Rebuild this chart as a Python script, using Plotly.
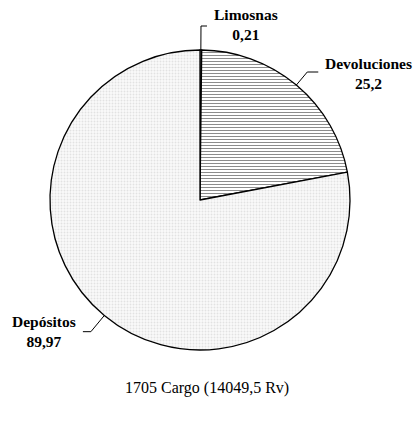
import math
import plotly.graph_objects as go

labels = ["Limosnas", "Devoluciones", "Depósitos"]
values = [0.21, 25.2, 89.97]
value_text = ["0,21", "25,2", "89,97"]
title_text = "1705 Cargo (14049,5 Rv)"

W, H = 413, 423
cx, cy, R = 200, 200, 150  # pie geometry in pixels

fig = go.Figure(go.Pie(
    labels=labels, values=values, sort=False, direction="clockwise", rotation=0,
    textinfo="none", hoverinfo="label+value", showlegend=False,
    marker=dict(
        colors=["#ffffff", "#ffffff", "#f5f5f5"],
        line=dict(color="#000000", width=1.3),
        pattern=dict(shape=["", "-", "."], fgcolor=["#000", "#8c8c8c", "#e2e2e2"],
                     bgcolor=["#ffffff", "#ffffff", "#fafafa"], size=[4, 3, 3],
                     solidity=[0.2, 0.35, 0.3]),
    ),
    domain=dict(x=[(cx - R) / W, (cx + R) / W], y=[1 - (cy + R) / H, 1 - (cy - R) / H]),
))

def px2paper(x, y):
    return x / W, 1 - y / H

shapes, annos = [], []
total = sum(values)
cum = 0
ext = [24, 17, 21]
hor = [6, 11, 8]
dy = [-2, 1, 0]
for i, (lab, v) in enumerate(zip(labels, values)):
    mid = (cum + v / 2) / total * 2 * math.pi
    cum += v
    sx, sy = math.sin(mid), -math.cos(mid)
    x0, y0 = cx + R * sx, cy + R * sy
    x1, y1 = cx + (R + ext[i]) * sx, cy + (R + ext[i]) * sy
    d = 1 if sx >= 0 else -1
    x2 = x1 + hor[i] * d
    pts = [px2paper(x0, y0), px2paper(x1, y1), px2paper(x2, y1)]
    path = "M {} {} L {} {} L {} {}".format(*[c for p in pts for c in p])
    shapes.append(dict(type="path", xref="paper", yref="paper", path=path,
                       line=dict(color="#000", width=1)))
    tx, ty = px2paper(x2 + 5 * d, y1 + dy[i])
    annos.append(dict(xref="paper", yref="paper", x=tx, y=ty, showarrow=False,
                      xanchor="left" if d > 0 else "right", yanchor="middle", align="center",
                      text="<b>{}</b><br><b>{}</b>".format(lab, value_text[i]),
                      font=dict(family="Liberation Serif", size=15.5, color="#000")))

annos.append(dict(xref="paper", yref="paper", x=206.5 / W, y=1 - 388 / H, showarrow=False,
                  xanchor="center", yanchor="middle", text=title_text,
                  font=dict(family="Liberation Serif", size=16, color="#000")))

fig.update_layout(width=W, height=H, margin=dict(l=0, r=0, t=0, b=0),
                  paper_bgcolor="#fff", plot_bgcolor="#fff",
                  shapes=shapes, annotations=annos)
fig.write_html("out.html", config={"displayModeBar": False},
               post_script="document.body.style.margin='0px';")
